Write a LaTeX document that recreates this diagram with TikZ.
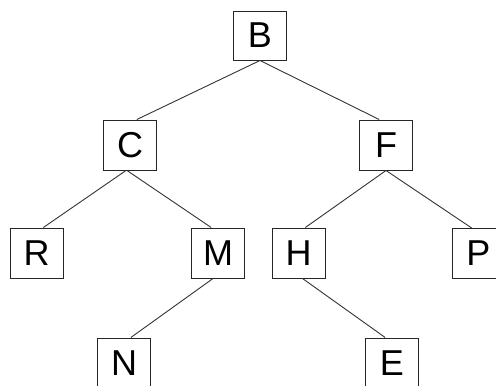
\documentclass[tikz,border=0pt]{standalone}
\usepackage{fontspec}
\setmainfont{Liberation Sans}
\begin{document}
\begin{tikzpicture}[x=1pt,y=-1pt,
  treebox/.style={draw=black!85, line width=1pt, minimum width=53pt, minimum height=50pt, inner sep=0pt, font=\fontsize{36}{36}\selectfont},
  edge/.style={draw=black!80, line width=0.9pt}]
\useasboundingbox (0,0) rectangle (496,386);
\clip (0,0) rectangle (496,386);
\node[treebox, minimum height=49pt] (B) at (260,35.5) {B};
\node[treebox] (C) at (130,145) {C};
\node[treebox] (F) at (386,145) {F};
\node[treebox] (R) at (36.5,253) {R};
\node[treebox] (M) at (218,253) {M};
\node[treebox] (H) at (298.5,253) {H};
\node[treebox] (P) at (478.5,253.5) {P};
\node[treebox] (N) at (124,363) {N};
\node[treebox] (E) at (392,363) {E};
\draw[edge] (B.south) -- (C.75);
\draw[edge] (B.south) -- (F.105);
\draw[edge] ([xshift=-4pt]C.south) -- (R.75);
\draw[edge] ([xshift=-3pt]C.south) -- (M.105);
\draw[edge] (F.south) -- (H.75);
\draw[edge] (F.south) -- (P.105);
\draw[edge] ([xshift=-5pt]M.south) -- (N.75);
\draw[edge] ([xshift=4pt]H.south) -- (E.105);
\end{tikzpicture}
\end{document}
